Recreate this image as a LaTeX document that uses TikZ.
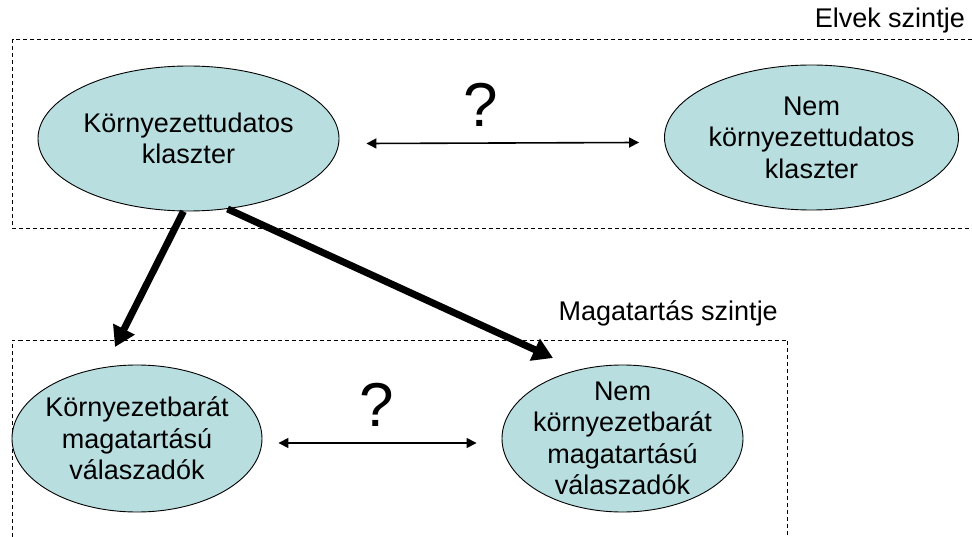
\documentclass[tikz,border=0pt]{standalone}
\usepackage{fontspec}
\setmainfont{Liberation Sans}
\usetikzlibrary{shapes.geometric,arrows.meta}
\definecolor{cellfill}{RGB}{184,222,224}
\begin{document}
\begin{tikzpicture}[x=1pt,y=-1pt,
  cell/.style={ellipse, draw=black, line width=0.9pt, fill=cellfill,
    inner xsep=-30pt, inner ysep=-10pt, align=center,
    font=\fontsize{27}{31.5}\selectfont},
  frame/.style={draw=black, line width=0.9pt, dash pattern=on 4pt off 3pt},
  bigarrow/.style={line width=7pt, -{Triangle[length=20pt,width=23pt]}},
  duo/.style={line width=1.6pt, {Triangle[length=10pt,width=10pt]}-{Triangle[length=10pt,width=10pt]}},
  qmark/.style={font=\fontsize{62}{62}\selectfont, inner sep=0pt},
  levellabel/.style={font=\fontsize{27}{32}\selectfont, inner sep=0pt, anchor=base east}
]
\useasboundingbox (0,0) rectangle (972,537);

% dashed level frames
\draw[frame] (972,39.5) -- (12.5,39.5) -- (12.5,228) -- (972,228);
\draw[frame] (12.5,537) -- (12.5,340) -- (787,340) -- (787,537);

% level labels
\node[levellabel] (l1) at (965,28) {Elvek szintje};
\node[levellabel] (l2) at (778,321) {Magatartás szintje};

% ellipses
\node[cell, minimum width=301pt, minimum height=145pt] (e1) at (188.5,138.5) {Környezettudatos\\klaszter};
\node[cell, minimum width=294pt, minimum height=145pt] (e2) at (811.5,137.5) {Nem\\környezettudatos\\klaszter};
\node[cell, minimum width=250pt, minimum height=147pt] (e3) at (137,438.5) {Környezetbarát\\magatartású\\válaszadók};
\node[cell, minimum width=241pt, minimum height=147pt] (e4) at (622.5,438.5) {Nem\\környezetbarát\\magatartású\\válaszadók};

% question marks
\node[qmark] (q1) at (481,104.5) {?};
\node[qmark] (q2) at (377,404.5) {?};

% double arrows
\draw[duo] ([xshift=27pt,yshift=-5pt]e1.east) -- ([xshift=-25pt,yshift=-5pt]e2.west);
\draw[duo] ([xshift=16pt,yshift=-4.5pt]e3.east) -- ([xshift=-25pt,yshift=-4.5pt]e4.west);

% thick arrows
\coordinate (c1) at (115,347);
\coordinate (c2) at (553,358);
\draw[bigarrow] (e1.-94) -- (c1);
\draw[bigarrow] (e1.-61) -- (c2);
\end{tikzpicture}
\end{document}
